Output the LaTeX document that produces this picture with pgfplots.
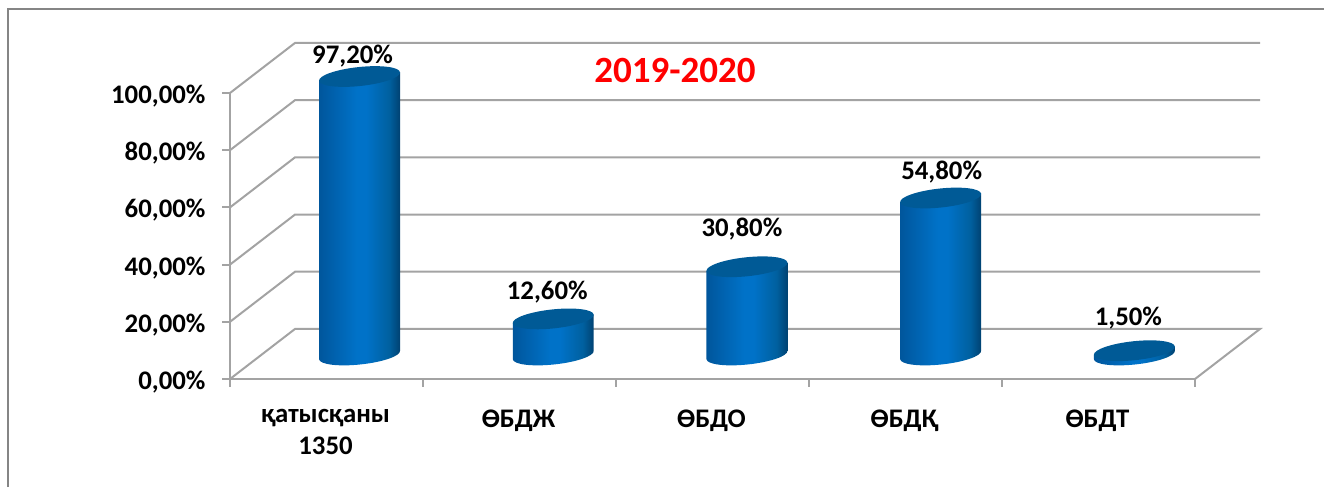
\documentclass[border=0pt]{standalone}
\usepackage{fontspec}
\setmainfont{Carlito}
\usepackage{pgfplots}
\pgfplotsset{compat=1.18}
\usepackage{pgfplotstable}
\definecolor{gridc}{HTML}{A3A3A3}
\definecolor{framec}{HTML}{858585}
\definecolor{cyltop}{HTML}{005A96}
\definecolor{cylL}{HTML}{00569C}
\definecolor{cylM}{HTML}{0072C8}
\definecolor{cylD1}{HTML}{00609F}
\definecolor{cylD2}{HTML}{00406F}
\pgfdeclarehorizontalshading{cylshade}{100bp}{
  color(0bp)=(cylL);
  color(25bp)=(cylL);
  color(48bp)=(cylM);
  color(54bp)=(cylM);
  color(68bp)=(cylD1);
  color(75bp)=(cylD2);
  color(100bp)=(cylD2)}
\pgfdeclareplotmark{cyl}{%
  \pgfmathsetmacro\cylH{\pgfplotspointmetatransformed*0.2865}%
  \pgfmathsetmacro\cx{-\cylH*sin(6)}%
  \pgfmathsetmacro\cy{-\cylH*cos(6)}%
  \pgfscope
    \pgftransformrotate{6}%
    \pgfpathmoveto{\pgfpoint{-40.7pt}{0pt}}%
    \pgfpathlineto{\pgfpoint{\cx pt-40.7pt}{\cy pt}}%
    \pgfpatharc{180}{360}{40.7pt and 9.5pt}%
    \pgfpathlineto{\pgfpoint{40.7pt}{0pt}}%
    \pgfpathclose
    \pgfshadepath{cylshade}{0}%
    \pgfusepath{discard}%
  \endpgfscope
  \pgfsetfillcolor{cyltop}%
  \pgfpathellipse{\pgfpointorigin}{\pgfpointpolar{6}{40.7pt}}{\pgfpointpolar{96}{9.5pt}}%
  \pgfusepath{fill}%
}
\pgfplotstableread{
x y lx ly
0.5 97.2 -7 20
1.5 12.6 -6 27
2.5 30.8 -5 38
3.5 54.8 1 26
4.5 1.5 -6 33
}\cyldata
\newcommand{\lab}{\bfseries\fontsize{26.8}{30}\selectfont}
\begin{document}
\begin{tikzpicture}[x=1pt,y=1pt]
\useasboundingbox (0,0) rectangle (1324,487);
\draw[framec,line width=2pt] (8,0) -- (8,478) -- (1324,478);
\begin{axis}[
  at={(230pt,108pt)},anchor=south west,
  width=965pt,height=286pt,scale only axis,
  xmin=0,xmax=5,ymin=0,ymax=100,clip=false,
  axis lines=left,axis line style={gridc,line width=2pt,-},
  tick style={gridc,line width=2pt},
  tick align=outside,major tick length=8pt,
  ytick={0,20,40,60,80,100},
  xtick={0,1,2,3,4,5},
  x tick label as interval=true,
  xticklabels={{қатысқаны\\[8pt]1350},ӨБДЖ,ӨБДО,ӨБДҚ,ӨБДТ},
  xticklabel style={font=\bfseries\fontsize{26.8}{24}\selectfont,align=center,yshift=-19pt,xshift=-1pt},
  yticklabel={\pgfmathprintnumber[fixed,fixed zerofill,precision=2,use comma,assume math mode=true]{\tick}\%},
  yticklabel style={font=\lab,xshift=-13pt,yshift=-3pt},
]
\addplot[gridc,line width=2pt] coordinates {(0,0)(0.3368,17.5)(5.3368,17.5)(5,0)};
\addplot[gridc,line width=2pt] coordinates {(0,20)(0.3368,37.5)(5.3368,37.5)};
\addplot[gridc,line width=2pt] coordinates {(0,40)(0.3368,57.5)(5.3368,57.5)};
\addplot[gridc,line width=2pt] coordinates {(0,60)(0.3368,77.5)(5.3368,77.5)};
\addplot[gridc,line width=2pt] coordinates {(0,80)(0.3368,97.5)(5.3368,97.5)};
\addplot[gridc,line width=2pt] coordinates {(0,100)(0.3368,117.5)(5.3368,117.5)};
\end{axis}
\begin{axis}[
  at={(262.7pt,132pt)},anchor=south west,
  width=968.5pt,height=286.5pt,scale only axis,
  xmin=0,xmax=5,ymin=0,ymax=100,clip=false,hide axis,
  point meta min=0,point meta max=100,
]
\addplot[scatter,only marks,mark=cyl,
  scatter/@pre marker code/.code={\pgfscope},
  scatter/@post marker code/.code={\endpgfscope},
  point meta=y,
  visualization depends on={\thisrow{lx} \as \labx},
  visualization depends on={\thisrow{ly} \as \laby},
  nodes near coords={\pgfmathprintnumber[fixed,fixed zerofill,precision=2,use comma,assume math mode=true]{\pgfplotspointmeta}\%},
  every node near coord/.append style={anchor=center,font=\lab,text=black,xshift=\labx pt,yshift=\laby pt},
] table[x=x,y=y] {\cyldata};
\end{axis}
\node[text=red,font=\bfseries\fontsize{37}{40}\selectfont] at (675,416) {2019-2020};
\end{tikzpicture}
\end{document}
